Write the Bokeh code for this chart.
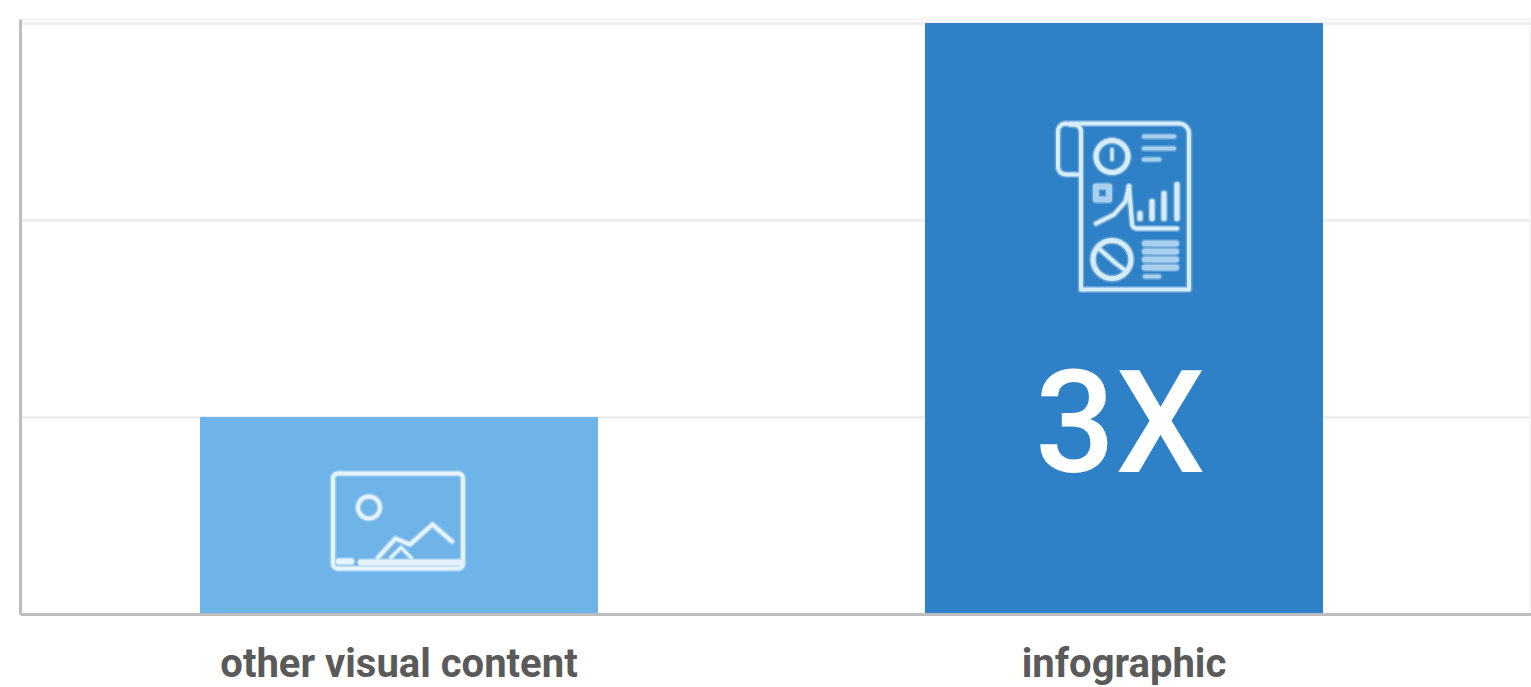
from bokeh.embed import file_html
from bokeh.resources import INLINE
from bokeh.plotting import figure
from bokeh.models import ColumnDataSource, FixedTicker
from bokeh.core.properties import value
import math

categories = ["other visual content", "infographic"]
values = [1, 3]
bar_colors = ["#6EB4E8", "#2E81C6"]
value_labels = ["", "3X"]
y_ticks = [0, 1, 2, 3]

W, H = 1531, 687
L, T, B = 20, 19, 73
FW, FH = W - L, H - T - B
UX = 725.0   # px per category
UY = 197.0   # px per value unit
BAR0 = 398.5 - L
x_start = -BAR0 / UX
x_end = x_start + FW / UX
y_start = 0.0
y_end = FH / UY

p = figure(width=W, height=H, frame_width=FW, frame_height=FH,
           x_range=(x_start, x_end), y_range=(y_start, y_end),
           output_backend="svg", toolbar_location=None,
           min_border_left=L, min_border_top=T, min_border_bottom=B, min_border_right=0,
           outline_line_color="#F4F4F4", outline_line_width=2)

xs = list(range(len(categories)))
src = ColumnDataSource(dict(x=xs, top=values, color=bar_colors))
p.vbar(x="x", top="top", bottom=0, width=0.5476, color="color", source=src)

p.xaxis.ticker = FixedTicker(ticks=xs)
p.xaxis.major_label_overrides = {i: c for i, c in zip(xs, categories)}
p.xaxis.major_label_text_font = "Roboto"
p.xaxis.major_label_text_font_style = "bold"
p.xaxis.major_label_text_font_size = "40px"
p.xaxis.major_label_text_color = "#5A5A5A"
p.xaxis.major_label_standoff = 19
p.xaxis.major_tick_line_color = None
p.xaxis.minor_tick_line_color = None
p.xaxis.axis_line_color = "#BDBDBD"
p.xaxis.axis_line_width = 3

p.yaxis.ticker = FixedTicker(ticks=y_ticks)
p.yaxis.major_label_overrides = {t: "" for t in y_ticks}
p.yaxis.major_label_standoff = 0
p.yaxis.major_tick_line_color = None
p.yaxis.minor_tick_line_color = None
p.yaxis.axis_line_color = "#BDBDBD"
p.yaxis.axis_line_width = 3

p.xgrid.visible = False
p.ygrid.grid_line_color = "#EFEFEF"
p.ygrid.grid_line_width = 3

# value label on the tall bar
p.text(x=xs, y=[v / 3 for v in values], text=value_labels,
       text_font=value("Roboto Medium"), text_font_size="142px", text_color="#FFFFFF",
       text_align="center", text_baseline="middle", x_offset=-4, y_offset=6)


# ---- pictograms, drawn as px offsets from an anchor on each bar ----
def dx(i, px):
    return xs[i] + px / UX


def dy(i, py):
    # py: px below the bar's top edge
    return values[i] - py / UY


def poly(i, pts, color="#E6F3FC", width=4):
    xv = [dx(i, a) for a, b in pts]
    yv = [dy(i, b) for a, b in pts]
    # soft halo: the reference picture is blurred
    p.line(xv, yv, line_color=color, line_width=width + 3, line_alpha=0.3,
           line_join="round", line_cap="round")
    p.line(xv, yv, line_color=color, line_width=width,
           line_join="round", line_cap="round")


def arc_pts(cx, cy, r, start, stop, n=8):
    return [(cx + r * math.cos(math.radians(start + (stop - start) * k / n)),
             cy + r * math.sin(math.radians(start + (stop - start) * k / n)))
            for k in range(n + 1)]


def circle(i, cx, cy, r, color="#E6F3FC", width=4):
    poly(i, arc_pts(cx, cy, r, 0, 360, 32), color, width)


def rrect(i, x0, y0, x1, y1, r=5, color="#E6F3FC", width=4):
    pts = (arc_pts(x0 + r, y0 + r, r, 180, 270) + arc_pts(x1 - r, y0 + r, r, 270, 360)
           + arc_pts(x1 - r, y1 - r, r, 0, 90) + arc_pts(x0 + r, y1 - r, r, 90, 180))
    poly(i, pts + pts[:1], color, width)


# picture icon on the short bar (anchor: bar centre / bar top)
I0 = 0
rrect(I0, -66, 56, 64, 151, r=5, width=4)
circle(I0, -30, 90, 11, width=4)
poly(I0, [(-21, 140), (-3.5, 121), (11, 127), (33.5, 107), (53, 124)], width=4)
poly(I0, [(-8, 140), (2, 130), (12, 140)], width=3)
poly(I0, [(-60, 144), (-48, 144)], width=6)
poly(I0, [(-38, 145), (60, 145)], width=6)

# report icon on the tall bar
I1 = 1
D = "#D6ECFA"
G = "#A9D1EE"
poly(I1, [(-54, 100)] + arc_pts(55, 110, 10, 270, 360) + [(65, 266), (-43, 266), (-43, 110)]
      + arc_pts(-49.5, 108, 6.5, 0, -90) + [(-54, 101)] + arc_pts(-58, 108, 8, 270, 180)
      + arc_pts(-58, 143, 8, 180, 90) + [(-43, 151)], color=D, width=4)
circle(I1, -12, 133, 16, color=D, width=5)
poly(I1, [(-12, 126), (-12, 136)], color=D, width=3)
for (a, b, y) in [(20, 50, 113), (20, 50, 125), (20, 35, 136)]:
    poly(I1, [(a, y), (b, y)], color=G, width=4)
poly(I1, [(-28, 163), (-15, 163), (-15, 176), (-28, 176), (-28, 163)], color=G, width=6)
poly(I1, [(-28, 200), (-10, 191), (1.5, 178), (5, 163)], color=D, width=4)
poly(I1, [(5, 163), (8, 200)] + arc_pts(13, 200, 5, 180, 90, 4) + [(53, 205)], color=D, width=4)
for (a, t) in [(16, 190), (28, 178), (40, 170), (53, 161)]:
    poly(I1, [(a, t), (a, 195)], color=D, width=5)
circle(I1, -12, 236, 19, color=D, width=5)
poly(I1, [(-24, 226), (-8, 240), (0, 246)], color=D, width=4)
for y in [220, 228, 236, 244]:
    poly(I1, [(21, y), (52, y)], color=G, width=6)
poly(I1, [(21, 253), (35, 253)], color=G, width=4)

open("out.html", "w").write(file_html(p, INLINE))
